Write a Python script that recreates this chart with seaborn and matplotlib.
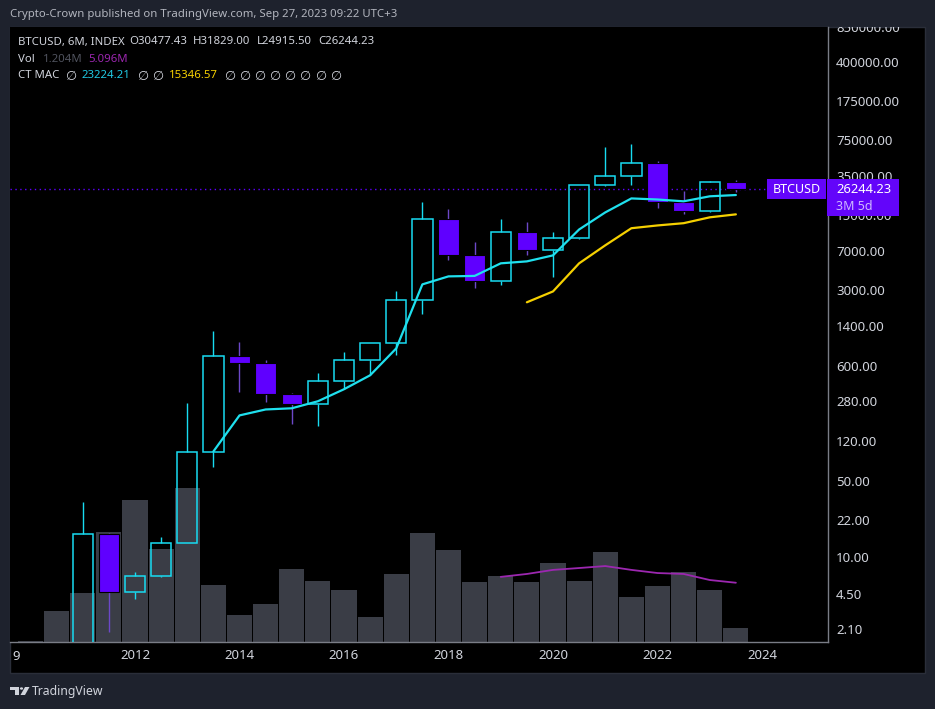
import numpy as np
import pandas as pd
import seaborn as sns
import matplotlib.pyplot as plt
from matplotlib.patches import Rectangle, Polygon, Circle
from matplotlib.ticker import NullLocator

# =========================
# DATA
# =========================

periods = [
    "2010-01", "2010-07", "2011-01", "2011-07", "2012-01", "2012-07", "2013-01",
    "2013-07", "2014-01", "2014-07", "2015-01", "2015-07", "2016-01", "2016-07",
    "2017-01", "2017-07", "2018-01", "2018-07", "2019-01", "2019-07", "2020-01",
    "2020-07", "2021-01", "2021-07", "2022-01", "2022-07", "2023-01", "2023-07",
]
opens = [0.05, 0.07, 0.30, 16.1, 4.7, 6.6, 13.5, 95, 731, 635, 323, 261, 428, 671,
         966, 2426, 13780, 6370, 3650, 10600, 7100, 9190, 28600, 35000, 45800, 19860,
         16400, 30477.43]
highs = [0.09, 0.50, 31.9, 16.5, 7.2, 15.1, 267, 1250, 986, 680, 330, 508, 796, 975,
         2944, 19860, 17100, 8410, 13780, 13000, 10420, 29000, 64600, 68900, 48000,
         25100, 31100, 31829.00]
lows = [0.05, 0.06, 0.29, 2.0, 4.0, 6.5, 13.3, 67.6, 338, 273, 170, 163, 361, 486,
        747, 1800, 5730, 3140, 3350, 6370, 3980, 9000, 28000, 29000, 17600, 15600,
        16300, 24915.50]
closes = [0.07, 0.30, 16.1, 4.7, 6.6, 13.5, 95, 731, 635, 323, 261, 428, 671, 966,
          2426, 13780, 6370, 3650, 10600, 7100, 9190, 28600, 35000, 45800, 19860,
          16400, 30500, 26244.23]
volume_m = [0.1, 2.67, 4.21, 9.46, 12.2, 8.0, 13.2, 4.9, 2.32, 3.27, 6.28, 5.25, 4.47,
            2.15, 5.85, 9.37, 7.91, 5.16, 5.68, 5.16, 6.79, 5.25, 7.74, 3.87, 4.82,
            6.02, 4.47, 1.204]

ma_fast_periods = periods[7:]
ma_fast = [95, 206, 234, 240, 279, 361, 487, 867, 3420, 4060, 4100, 5370, 5600, 6370,
           11100, 16000, 21600, 21100, 20300, 22600, 23224.21]

ma_slow_periods = periods[19:]
ma_slow = [2330, 2940, 5370, 7900, 11400, 12100, 12700, 14400, 15346.57]

vol_ma_periods = periods[18:]
vol_ma = [5.6, 5.85, 6.2, 6.36, 6.53, 6.2, 5.93, 5.85, 5.33, 5.096]

price_ticks = [850000, 400000, 175000, 75000, 35000, 15000, 7000, 3000, 1400, 600,
               280, 120, 50, 22, 10, 4.5, 2.1]
year_ticks = [2012, 2014, 2016, 2018, 2020, 2022, 2024]

# =========================
# STYLE
# =========================

W, H = 935, 709
BG = "#1e222d"
TXT = "#d1d4dc"
CYAN = "#18dcf2"
CYAN_MA = "#1fe0ee"
PURPLE = "#5f00ff"
PURPLE_WICK = "#6c48c8"
YELLOW = "#f5d000"
VOL = "#3a3d46"
VOL_MA = "#9c27b0"
SEP = "#7a7d86"

sns.set_theme(style="dark", rc={"axes.facecolor": "black", "figure.facecolor": BG})
plt.rcParams["font.family"] = ["Noto Sans", "DejaVu Sans"]


def to_x(p):
    year, month = p.split("-")
    return int(year) + (int(month) - 1) / 12


def fx(x):
    return x / W


def fy(y):
    return 1 - y / H


def ftext(fig, x, y, s, **kw):
    kw.setdefault("va", "center")
    fig.text(fx(x), fy(y), s, **kw)


x = np.array([to_x(p) for p in periods])

fig = plt.figure(figsize=(W / 100, H / 100), dpi=100)

# dark chart panel
panel = Rectangle((fx(10), fy(673)), 915 / W, 646 / H, transform=fig.transFigure,
                  facecolor="black", edgecolor="#2a2e39", lw=1, zorder=-1)
fig.add_artist(panel)

ax_vol = fig.add_axes([fx(10), fy(642), 818 / W, 615 / H])
ax_vol.set_facecolor("black")
ax = ax_vol.twinx()

X0, X1 = 2009.608, 2025.263

# volume pane
ax_vol.bar(x, volume_m, width=0.48, color=VOL, edgecolor="none", linewidth=0, zorder=1)
sns.lineplot(x=[to_x(p) for p in vol_ma_periods], y=vol_ma, ax=ax_vol, color=VOL_MA,
             lw=1.3, legend=False, zorder=2)
ax_vol.set_ylim(0, 615 / 11.63)
ax_vol.set_xlim(X0, X1)
ax_vol.set_yticks([])
ax_vol.set_ylabel("")
ax_vol.set_xticks(year_ticks)
ax_vol.set_xticklabels([str(y) for y in year_ticks])
ax_vol.tick_params(axis="x", length=0, pad=5, labelsize=9.5, colors=TXT)
for t in ax_vol.get_xticklabels():
    t.set_fontweight("bold")

# candles
ax.set_yscale("log")
for xi, o, h, l, c in zip(x, opens, highs, lows, closes):
    up = c >= o
    top, bot = max(o, c), min(o, c)
    wick = CYAN if up else PURPLE_WICK
    ax.vlines(xi, top, h, color=wick, lw=1.0, zorder=3)
    ax.vlines(xi, l, bot, color=wick, lw=1.0, zorder=3)
    if up:
        ax.bar(xi, top - bot, bottom=bot, width=0.39, facecolor="none",
               edgecolor=CYAN, lw=1.1, zorder=4)
    else:
        ax.bar(xi, top - bot, bottom=bot, width=0.39, facecolor=PURPLE,
               edgecolor="black", lw=0.8, zorder=4)

sns.lineplot(x=[to_x(p) for p in ma_fast_periods], y=ma_fast, ax=ax, color=CYAN_MA,
             lw=1.6, legend=False, zorder=5)
sns.lineplot(x=[to_x(p) for p in ma_slow_periods], y=ma_slow, ax=ax, color=YELLOW,
             lw=1.6, legend=False, zorder=5)

ax.set_xlim(X0, X1)
ax.set_ylim(1.5995, 852300)
ax.axhline(closes[-1], xmin=0, xmax=(767 - 10) / 818, color=PURPLE, lw=1.0,
           ls=(0, (1, 2.5)), zorder=2)
ax.set_ylabel("")
ax.set_yticks(price_ticks)
ax.set_yticklabels([f"{v:.2f}" for v in price_ticks])
ax.yaxis.set_minor_locator(NullLocator())
ax.tick_params(axis="y", length=0, pad=5.8, labelsize=9.5, colors=TXT)

clip = Rectangle((fx(10), fy(673)), 915 / W, 646 / H, transform=fig.transFigure)
for t in ax.get_yticklabels():
    t.set_clip_path(clip)

for a in (ax, ax_vol):
    for side in ("top", "left", "right", "bottom"):
        a.spines[side].set_visible(False)
ax.spines["right"].set_visible(True)
ax.spines["right"].set_color(SEP)
ax.spines["right"].set_linewidth(1)
ax_vol.spines["bottom"].set_visible(True)
ax_vol.spines["bottom"].set_color(SEP)
ax_vol.spines["bottom"].set_linewidth(1)

# cut off first time label
ftext(fig, 12, 657, "9", color=TXT, fontsize=9.5, fontweight="bold")

# =========================
# HEADER / LEGEND
# =========================

ftext(fig, 10, 14, "Crypto-Crown published on TradingView.com, Sep 27, 2023 09:22 UTC+3",
      color="#b2b5be", fontsize=8.2)

ftext(fig, 18, 42, "BTCUSD, 6M, INDEX", color=TXT, fontsize=8.2)
ftext(fig, 129, 42, "O30477.43", color=TXT, fontsize=8.2)
ftext(fig, 193, 42, "H31829.00", color=TXT, fontsize=8.2)
ftext(fig, 257, 42, "L24915.50", color=TXT, fontsize=8.2)
ftext(fig, 318, 42, "C26244.23", color=TXT, fontsize=8.2)

ftext(fig, 18, 59, "Vol", color=TXT, fontsize=8.2)
ftext(fig, 43, 59, "1.204M", color="#50535e", fontsize=8.2)
ftext(fig, 88, 59, "5.096M", color=VOL_MA, fontsize=8.2)

NA = dict(color=TXT, fontsize=9.2, family=["DejaVu Sans"])
ftext(fig, 18, 76, "CT MAC", color=TXT, fontsize=8.2)
ftext(fig, 65, 76, "∅", **NA)
ftext(fig, 81, 76, "23224.21", color="#20c8e2", fontsize=8.2)
ftext(fig, 137, 76, "∅", **NA)
ftext(fig, 152, 76, "∅", **NA)
ftext(fig, 169, 76, "15346.57", color=YELLOW, fontsize=8.2)
for k in range(8):
    ftext(fig, 224 + k * 15.1, 76, "∅", **NA)

# =========================
# LAST PRICE LABELS
# =========================

py = H - ax.transData.transform((X0, closes[-1]))[1]
LABEL = "#6305fa"
fig.add_artist(Rectangle((fx(767), fy(py + 10)), 59 / W, 20 / H, transform=fig.transFigure,
                         facecolor=LABEL, edgecolor="none", zorder=5))
fig.add_artist(Rectangle((fx(827), fy(py + 27)), 72 / W, 37 / H, transform=fig.transFigure,
                         facecolor=LABEL, edgecolor="none", zorder=5))
fig.text(fx(796.5), fy(py + 0.5), "BTCUSD", color="white", fontsize=9, fontweight="bold",
         ha="center", va="center", zorder=6)
fig.text(fx(836), fy(py + 0.5), f"{closes[-1]:.2f}", color="white", fontsize=9.3,
         fontweight="bold", va="center", zorder=6)
fig.text(fx(836), fy(py + 17), "3M 5d", color="#cdb8ff", fontsize=9, va="center", zorder=6)

# =========================
# FOOTER
# =========================

LOGO = "#d1d4dc"
fig.add_artist(Polygon([(fx(10), fy(687)), (fx(19), fy(687)), (fx(19), fy(695)),
                        (fx(15), fy(695)), (fx(15), fy(690)), (fx(10), fy(690))],
                       closed=True, transform=fig.transFigure, facecolor=LOGO,
                       edgecolor="none"))
fig.add_artist(Circle((fx(21.5), fy(688.5)), 1.6 / W, transform=fig.transFigure,
                      facecolor=LOGO, edgecolor="none"))
fig.add_artist(Polygon([(fx(25), fy(687)), (fx(29.5), fy(687)), (fx(25), fy(695)),
                        (fx(20.5), fy(695))],
                       closed=True, transform=fig.transFigure, facecolor=LOGO,
                       edgecolor="none"))
ftext(fig, 32, 691, "TradingView", color=LOGO, fontsize=8.8)

plt.savefig("out.png", dpi=100, facecolor=BG)
plt.close()
